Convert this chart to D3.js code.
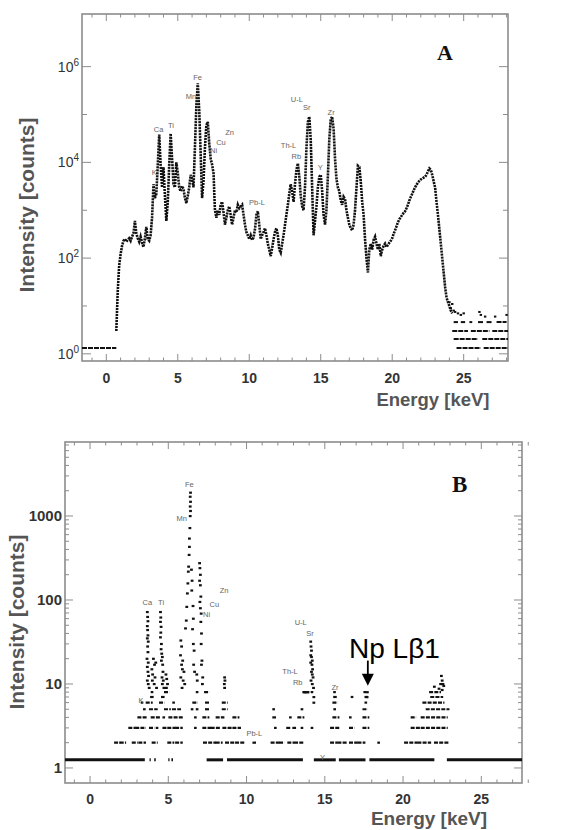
<!DOCTYPE html>
<html>
<head>
<meta charset="utf-8">
<script src="https://cdn.jsdelivr.net/npm/d3@7"></script>
<style>
  body { margin: 0; background: #fff; }
  svg { display: block; }
</style>
</head>
<body>
<svg id="chart" width="578" height="830"></svg>
<script>
// ---------------- Spectrum A (full spectrum, log counts) ----------------
// Channel calibration for spectrum A: first channel energy and channel width (keV)
const specAStart = 0.7;
const specAStep = 0.1;
// Counts per channel, 0.7 keV .. 24.2 keV
const specACounts = [
  3, 20, 70,
  120, 180, 230, 250, 220, 240, 260, 230, 280, 330,
  600, 330, 260, 220, 280, 210, 170, 260, 450, 250,
  230, 300, 700, 3500, 1800, 2200, 9000, 38000, 9000, 3000,
  8000, 2000, 600, 1500, 9000, 40000, 12000, 3500, 3000, 10000,
  6000, 3000, 2500, 3200, 2800, 1800, 1400, 2000, 3000, 5500,
  4500, 3000, 20000, 150000, 450000, 120000, 15000, 1800, 4000, 20000,
  60000, 70000, 25000, 12000, 9000, 6000, 1000, 700, 1000, 800,
  1300, 1500, 900, 500, 700, 1000, 1200, 800, 500, 700,
  1000, 900, 1300, 1100, 1200, 1300, 800, 500, 350, 300,
  250, 300, 240, 270, 400, 800, 950, 500, 250, 300,
  350, 420, 300, 200, 150, 110, 160, 250, 350, 420,
  300, 150, 130, 200, 300, 500, 800, 1300, 2200, 3500,
  2500, 1500, 3500, 7000, 9500, 5000, 2000, 1200, 1000, 3000,
  20000, 70000, 90000, 30000, 3000, 300, 600, 1200, 3000, 5000,
  5500, 2500, 800, 500, 1000, 5000, 30000, 80000, 90000, 50000,
  12000, 4500, 3000, 2500, 1600, 1300, 1900, 1700, 1000, 700,
  500, 420, 380, 500, 1000, 3000, 8500, 8000, 4000, 1500,
  800, 250, 100, 50, 150, 200, 150, 240, 280, 200,
  150, 200, 110, 150, 180, 200, 170, 190, 210, 230,
  260, 320, 380, 460, 560, 650, 720, 800, 880, 950,
  1100, 1300, 1600, 1900, 2200, 2600, 3000, 3400, 3800, 4100,
  4400, 4600, 4800, 5000, 5500, 6500, 7500, 7000, 5500, 4000,
  3000, 1500, 800, 400, 200, 100, 50, 25, 15, 12,
  10, 8, 7
];
// Flat low-count stretches of spectrum A: [counts, fromKeV, toKeV]
const specARuns = [
  [1.33, -1.7, 0.7],
  [1.33, 24.5, 26.2], [1.33, 26.4, 28.1],
  [2.05, 24.3, 26.0], [2.05, 26.3, 28.1],
  [3.0, 24.2, 25.3], [3.0, 25.5, 26.8], [3.0, 27.0, 28.1],
  [4.6, 24.3, 24.6], [4.6, 24.8, 25.1], [4.6, 25.4, 25.6], [4.6, 26.0, 26.4],
  [4.6, 26.6, 27.0], [4.6, 27.3, 28.0]
];
// Isolated points in the high-energy tail of A: [keV, counts]
const specADots = [
  [24.0, 12], [24.1, 9], [24.2, 11], [24.3, 8], [24.4, 7.5], [24.6, 7], [24.8, 6.5],
  [25.0, 7], [26.1, 7.5], [26.2, 6.5], [26.5, 6], [27.2, 6], [28.0, 6.5]
];
// Element annotations of A: [text, keV, counts]
const labelsA = [
  ["Fe", 6.39, 6e5], ["Mn", 5.92, 2.4e5], ["Ca", 3.66, 4.9e4], ["Ti", 4.52, 5.9e4],
  ["Zn", 8.62, 4.2e4], ["Cu", 8.02, 2.6e4], ["Ni", 7.5, 1.8e4], ["K", 3.36, 6000],
  ["Pb-L", 10.54, 1440], ["U-L", 13.33, 2.1e5], ["Sr", 14.03, 1.4e5],
  ["Th-L", 12.75, 2.2e4], ["Rb", 13.29, 1.35e4], ["Y", 14.97, 7700], ["Zr", 15.73, 1.1e5]
];

// ---------------- Spectrum B (sparse counts) ----------------
// Single-count baseline stretches: [fromKeV, toKeV]
const specBBase = [
  [-1.6, 3.5], [3.8, 3.88], [4.1, 4.2], [5.0, 5.08], [5.2, 5.3], [7.45, 8.5],
  [8.75, 13.6], [14.3, 15.7], [15.9, 17.6], [17.85, 22.0], [22.8, 27.6]
];
// Level at which the single-count baseline is drawn
const specBBaseLevel = 1.25;
// Runs of equal counts: [counts, fromKeV, toKeV]
const specBRuns = [
  [2,1.6,1.87],[2,1.96,2.24],[2,2.73,2.98],[2,3.15,3.51],[2,4.0,4.26],[2,5.0,5.32],[2,5.5,5.86],
  [2,7.28,7.99],[2,8.09,8.41],[2,8.69,9.16],[2,9.33,9.8],[2,10.44,10.54],[2,11.6,12.03],
  [2,12.14,12.35],[2,12.67,12.99],[2,13.1,13.63],[2,15.4,15.76],[2,15.87,16.4],[2,16.61,17.04],
  [2,17.15,17.53],[2,18.42,18.46],[2,20.13,20.87],[2,20.98,21.73],[2,22.04,22.9],
  [3,2.51,2.85],[3,2.95,3.51],[3,3.83,4.05],[3,4.26,4.3],[3,4.69,4.9],[3,5.0,5.4],[3,5.5,5.86],
  [3,6.71,6.75],[3,7.24,7.67],[3,7.77,8.3],[3,8.52,9.05],[3,9.16,9.58],[3,11.82,11.86],
  [3,12.6,12.78],[3,12.99,13.1],[3,13.52,13.56],[3,14.16,14.2],[3,15.4,15.87],[3,16.61,16.83],
  [3,17.47,17.78],[3,20.55,21.09],[3,21.19,22.79],
  [4,3.09,3.62],[4,3.94,4.47],[4,4.69,4.73],[4,5.07,5.86],[4,6.71,6.75],[4,7.24,7.56],
  [4,8.09,8.52],[4,9.16,9.48],[4,11.71,11.82],[4,12.78,12.82],[4,13.31,13.63],[4,15.55,15.87],
  [4,16.61,16.65],[4,17.47,17.78],[4,20.55,20.77],[4,21.19,22.79],
  [5,3.45,3.49],[5,3.83,4.26],[5,4.79,5.1],[5,5.3,5.75],[5,6.5,6.54],[5,6.82,6.86],[5,7.41,7.56],
  [5,8.48,8.73],[5,11.71,11.75],[5,13.52,13.56],[5,15.61,15.65],[5,17.47,17.68],[5,21.51,22.9],
  [6,3.3,3.34],[6,3.62,3.94],[6,4.47,4.69],[6,5.32,5.36],[6,6.6,6.82],[6,7.41,7.56],
  [6,8.48,8.73],[6,15.55,15.76],[6,17.6,17.64],[6,21.3,22.58],
  [7,3.9,4.0],[7,4.6,4.7],[7,15.6,15.7],[7,16.72,16.76],[7,17.6,17.7],[7,21.8,22.5],
  [8,3.94,3.98],[8,4.79,5.0],[8,6.82,6.86],[8,7.35,7.56],[8,13.63,13.95],[8,14.16,14.2],
  [8,15.6,15.64],[8,17.53,17.57],[8,21.73,22.36]
];
// Individual channels above the runs: [keV, counts]
const specBDots = [
  [3.66,72],[3.68,63],[3.70,56],[3.66,49],[3.68,44],[3.70,38],[3.66,35],[3.72,32],[3.68,28],
  [3.70,24],[3.64,20],[3.72,18],[3.66,16],[3.70,14],[3.74,12.5],[3.66,11],[3.72,10],[3.78,9],
  [4.05,20],[4.12,17],[3.95,15],[4.2,18],[4.0,13],[4.15,12],[3.98,11],[4.1,10],[4.25,9],
  [4.50,72],[4.52,62],[4.50,55],[4.54,48],[4.52,41],[4.50,36],[4.56,30],[4.54,26],[4.58,23],
  [4.62,21],[4.56,19],[4.64,17],[4.66,14],[4.60,12],[4.68,11],[4.62,10],[4.72,9],
  [4.85,13],[4.9,11.5],[4.95,10],[4.88,9],
  [5.8,33],[5.85,28],[5.78,22],[5.92,19],[5.85,17],[5.9,15],[6.0,14],[5.8,12],[5.95,11],
  [6.05,10],[5.88,9],
  [6.10,46],[6.15,57],[6.18,83],[6.22,120],[6.25,158],[6.28,218],[6.30,250],[6.33,345],
  [6.35,430],[6.35,540],[6.38,720],[6.40,1000],[6.42,1150],[6.40,1300],[6.42,1480],
  [6.40,1700],[6.42,1900],
  [6.48,230],[6.52,170],[6.5,130],[6.58,85],[6.6,60],[6.55,45],[6.6,30],[6.65,25],[6.62,17],
  [6.68,14],[6.82,13],[6.85,11],
  [7.0,275],[7.02,240],[7.05,200],[7.0,170],[7.05,150],[7.08,110],[7.02,95],[7.05,80],
  [7.1,69],[7.08,55],[7.12,40],[7.1,30],[7.15,19],[7.12,17],[7.2,12],[7.18,10],
  [8.6,12],[8.62,11],[8.58,10],[8.6,9],
  [13.7,8],[13.8,8],[13.9,8],
  [14.1,32],[14.12,28],[14.15,25],[14.1,22],[14.15,21],[14.2,19],[14.1,18],[14.18,17],
  [14.22,15],[14.15,14],[14.2,13],[14.25,12],[14.12,11],[14.2,10],[14.28,9],[14.3,7],[14.3,6],
  [17.72,8],[17.7,7],
  [22.45,12.5],[22.5,11],[22.55,10],[22.4,10],[22.6,9.5],[22.0,9.3],[22.3,8.8],[22.5,8.5]
];
// Element annotations of B: [text, keV, counts]
const labelsB = [
  ["Fe", 6.35, 2400], ["Mn", 5.86, 940], ["Ca", 3.66, 94], ["Ti", 4.54, 94],
  ["Zn", 8.56, 128], ["Cu", 7.94, 89], ["Ni", 7.45, 68], ["K", 3.26, 6.3],
  ["Pb-L", 10.5, 2.6], ["U-L", 13.46, 54], ["Sr", 14.06, 40], ["Th-L", 12.78, 14],
  ["Rb", 13.27, 10.4], ["Zr", 15.65, 9.1], ["Y", 14.85, 1.34]
];
// Np L-beta-1 marker: energy, arrow tail and tip (counts)
const npLine = { text: "Np L\u03b21", energy: 17.75, tail: 19, tip: 9.5 };

// Tick values
const energyTicks = [0, 5, 10, 15, 20, 25];
const energyMinorTicks = d3.range(-1, 29).filter(v => v % 5 !== 0);
const decadeTicksA = [0, 2, 4, 6];
const oddDecadesA = [1, 3, 5];
const countTicksB = [1, 10, 100, 1000];

// ---------------- drawing ----------------
const svg = d3.select("#chart");
svg.append("rect").attr("width", 578).attr("height", 830).attr("fill", "#fff");

const frameColor = "#8c8c8c";
const labelColor = "#555";
const tickTextColor = "#333";

function drawFrame(g, x, y, xMajor, xMinor, yMajor, yMinor, majLen, minLen, yMajLen, yMinLen) {
  const [x0, x1] = x.range();
  const [yb, yt] = y.range();
  const segs = [];
  xMajor.forEach(v => { segs.push([x(v), yb, x(v), yb - majLen]); segs.push([x(v), yt, x(v), yt + majLen]); });
  xMinor.forEach(v => { segs.push([x(v), yb, x(v), yb - minLen]); segs.push([x(v), yt, x(v), yt + minLen]); });
  yMajor.forEach(v => { segs.push([x0, y(v), x0 + yMajLen, y(v)]); segs.push([x1, y(v), x1 - yMajLen, y(v)]); });
  yMinor.forEach(v => { segs.push([x0, y(v), x0 + yMinLen, y(v)]); segs.push([x1, y(v), x1 - yMinLen, y(v)]); });
  g.append("g").selectAll("line").data(segs).join("line")
    .attr("x1", d => d[0]).attr("y1", d => d[1]).attr("x2", d => d[2]).attr("y2", d => d[3])
    .attr("stroke", frameColor).attr("stroke-width", 1);
  g.append("rect")
    .attr("x", x0).attr("y", yt).attr("width", x1 - x0).attr("height", yb - yt)
    .attr("fill", "none").attr("stroke", frameColor).attr("stroke-width", 1.6);
}

// ===== Panel A =====
const xA = d3.scaleLinear().domain([-1.7, 28.1]).range([82, 508]);
const yA = d3.scaleLog().domain([Math.pow(10, -0.15), Math.pow(10, 7.1)]).range([361, 14]);
const gA = svg.append("g");

gA.append("clipPath").attr("id", "clipA").append("rect")
  .attr("x", 82).attr("y", 14).attr("width", 426).attr("height", 347);

drawFrame(gA, xA, yA, energyTicks, energyMinorTicks,
  decadeTicksA.map(p => Math.pow(10, p)), oddDecadesA.map(p => Math.pow(10, p)), 7, 3.5, 9, 5);

const plotA = gA.append("g").attr("clip-path", "url(#clipA)");
const specA = specACounts.map((c, i) => ({ e: specAStart + i * specAStep, c }));
plotA.append("path").datum(specA)
  .attr("d", d3.line().x(d => xA(d.e)).y(d => yA(d.c)))
  .attr("fill", "none").attr("stroke", "#111").attr("stroke-width", 2.6)
  .attr("stroke-dasharray", "2.1 0.9");
plotA.selectAll("line.run").data(specARuns).join("line").attr("class", "run")
  .attr("x1", d => xA(d[1])).attr("x2", d => xA(d[2]))
  .attr("y1", d => yA(d[0])).attr("y2", d => yA(d[0]))
  .attr("stroke", "#111").attr("stroke-width", 2).attr("stroke-dasharray", "5 1");
plotA.selectAll("rect.dot").data(specADots).join("rect").attr("class", "dot")
  .attr("x", d => xA(d[0]) - 1.2).attr("y", d => yA(d[1]) - 1)
  .attr("width", 2.4).attr("height", 2).attr("fill", "#111");

gA.selectAll("text.el").data(labelsA).join("text").attr("class", "el")
  .attr("x", d => xA(d[1])).attr("y", d => yA(d[2]))
  .attr("text-anchor", "middle").attr("dominant-baseline", "central")
  .attr("font-family", "Liberation Sans, Arial, sans-serif").attr("font-size", 7.5)
  .attr("fill", "#666").text(d => d[0]);

// x tick labels
gA.selectAll("text.xt").data(energyTicks).join("text").attr("class", "xt")
  .attr("x", d => xA(d)).attr("y", 383).attr("text-anchor", "middle")
  .attr("font-family", "Liberation Sans, Arial, sans-serif").attr("font-size", 14)
  .attr("font-weight", "bold").attr("fill", tickTextColor).text(d => d);
// y tick labels 10^n
const ytA = gA.selectAll("text.yt").data(decadeTicksA).join("text").attr("class", "yt")
  .attr("x", 79).attr("y", d => yA(Math.pow(10, d)) + 5).attr("text-anchor", "end")
  .attr("font-family", "Liberation Sans, Arial, sans-serif").attr("font-size", 14)
  .attr("fill", tickTextColor);
ytA.append("tspan").text("10");
ytA.append("tspan").attr("font-size", 10).attr("dy", -6).text(d => d);

gA.append("text").attr("transform", "translate(34,205) rotate(-90)")
  .attr("text-anchor", "middle").attr("font-family", "Liberation Sans, Arial, sans-serif")
  .attr("font-size", 21).attr("font-weight", "bold").attr("fill", labelColor)
  .text("Intensity [counts]");
gA.append("text").attr("x", 433).attr("y", 406).attr("text-anchor", "middle")
  .attr("font-family", "Liberation Sans, Arial, sans-serif")
  .attr("font-size", 18.5).attr("font-weight", "bold").attr("fill", labelColor)
  .text("Energy [keV]");
gA.append("text").attr("x", 437).attr("y", 60)
  .attr("font-family", "Liberation Serif, Times New Roman, serif")
  .attr("font-size", 22).attr("font-weight", "bold").attr("fill", "#111").text("A");

// ===== Panel B =====
const xB = d3.scaleLinear().domain([-1.6, 27.6]).range([65, 522]);
const yB = d3.scaleLog().domain([Math.pow(10, -0.179), Math.pow(10, 3.881)]).range([783, 442]);
const gB = svg.append("g");
gB.append("clipPath").attr("id", "clipB").append("rect")
  .attr("x", 65).attr("y", 442).attr("width", 457).attr("height", 341);

const minorB = [];
countTicksB.forEach(d => d3.range(2, 10).forEach(k => { if (d * k < yB.domain()[1]) minorB.push(d * k); }));
drawFrame(gB, xB, yB, energyTicks, energyMinorTicks, countTicksB, minorB, 7, 3.5, 8, 4);

const plotB = gB.append("g").attr("clip-path", "url(#clipB)");
plotB.selectAll("line.base").data(specBBase).join("line").attr("class", "base")
  .attr("x1", d => xB(d[0])).attr("x2", d => xB(d[1]))
  .attr("y1", yB(specBBaseLevel)).attr("y2", yB(specBBaseLevel))
  .attr("stroke", "#111").attr("stroke-width", 3);
plotB.selectAll("line.run").data(specBRuns).join("line").attr("class", "run")
  .attr("x1", d => xB(d[1]) - 1).attr("x2", d => xB(d[2]) + 1)
  .attr("y1", d => yB(d[0])).attr("y2", d => yB(d[0]))
  .attr("stroke", "#111").attr("stroke-width", 2.2).attr("stroke-dasharray", "4 1.2");
plotB.selectAll("rect.dot").data(specBDots).join("rect").attr("class", "dot")
  .attr("x", d => xB(d[0]) - 1.4).attr("y", d => yB(d[1]) - 1)
  .attr("width", 2.8).attr("height", 2.2).attr("fill", "#111");

gB.selectAll("text.el").data(labelsB).join("text").attr("class", "el")
  .attr("x", d => xB(d[1])).attr("y", d => yB(d[2]))
  .attr("text-anchor", "middle").attr("dominant-baseline", "central")
  .attr("font-family", "Liberation Sans, Arial, sans-serif").attr("font-size", 7.5)
  .attr("fill", "#666").text(d => d[0]);

// Np L-beta-1 arrow and caption
const ax = xB(npLine.energy), ay0 = yB(npLine.tail), ay1 = yB(npLine.tip);
gB.append("line").attr("x1", ax).attr("x2", ax).attr("y1", ay0).attr("y2", ay1 - 10)
  .attr("stroke", "#000").attr("stroke-width", 1.8);
gB.append("path")
  .attr("d", `M${ax - 6},${ay1 - 12} L${ax + 6},${ay1 - 12} L${ax},${ay1} Z`)
  .attr("fill", "#000");
gB.append("text").attr("x", 349).attr("y", 658)
  .attr("font-family", "Liberation Sans, Arial, sans-serif").attr("font-size", 28)
  .attr("fill", "#000").text(npLine.text);

gB.selectAll("text.xt").data(energyTicks).join("text").attr("class", "xt")
  .attr("x", d => xB(d)).attr("y", 804).attr("text-anchor", "middle")
  .attr("font-family", "Liberation Sans, Arial, sans-serif").attr("font-size", 14)
  .attr("font-weight", "bold").attr("fill", tickTextColor).text(d => d);
gB.selectAll("text.yt").data(countTicksB).join("text").attr("class", "yt")
  .attr("x", 62).attr("y", d => yB(d) + 5).attr("text-anchor", "end")
  .attr("font-family", "Liberation Sans, Arial, sans-serif").attr("font-size", 15)
  .attr("font-weight", "bold").attr("fill", tickTextColor).text(d => d);

gB.append("text").attr("transform", "translate(24,622) rotate(-90)")
  .attr("text-anchor", "middle").attr("font-family", "Liberation Sans, Arial, sans-serif")
  .attr("font-size", 21).attr("font-weight", "bold").attr("fill", labelColor)
  .text("Intensity [counts]");
gB.append("text").attr("x", 429).attr("y", 825).attr("text-anchor", "middle")
  .attr("font-family", "Liberation Sans, Arial, sans-serif")
  .attr("font-size", 19).attr("font-weight", "bold").attr("fill", labelColor)
  .text("Energy [keV]");
gB.append("text").attr("x", 452).attr("y", 492)
  .attr("font-family", "Liberation Serif, Times New Roman, serif")
  .attr("font-size", 23).attr("font-weight", "bold").attr("fill", "#111").text("B");
</script>
</body>
</html>
